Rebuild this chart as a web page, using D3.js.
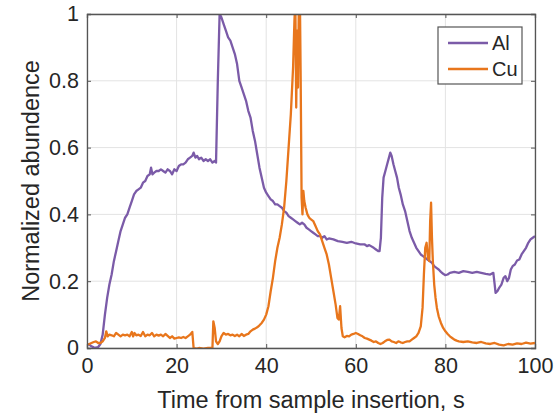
<!DOCTYPE html>
<html>
<head>
<meta charset="utf-8">
<script src="https://cdn.jsdelivr.net/npm/d3@7"></script>
<style>
  body { margin: 0; background: #fff; }
  text { font-family: "Liberation Sans", Arial, Helvetica, sans-serif; fill: #262626; }
</style>
</head>
<body>
<div class="chart"></div>
<script>
let FRAME_WIDTH = 555;
let FRAME_HEIGHT = 414;
let MARGINS = {left: 87, right: 20, top: 14, bottom: 66};

let xTicks = [0, 20, 40, 60, 80, 100];
let yTicks = [0, 0.2, 0.4, 0.6, 0.8, 1];
let yTickLabels = ["0", "0.2", "0.4", "0.6", "0.8", "1"];

// Al trace (time s, normalized value)
let alTime = [0, 0.5, 1, 1.5, 2, 2.5, 3, 3.5, 4, 4.5, 5, 5.5, 6, 6.5, 7, 7.5, 8, 8.5, 9, 9.5,
  10, 10.5, 11, 11.5, 12, 12.5, 13, 13.5, 14, 14.3, 14.6, 15, 15.5, 16, 16.5, 17, 17.5, 18, 18.5, 19, 19.5,
  20, 20.5, 21, 21.5, 22, 22.5, 23, 23.5, 23.8, 24.2, 24.6, 25, 25.5, 26, 26.5, 27, 27.5, 28, 28.5, 28.8,
  29.2, 29.6, 30, 30.5, 31, 31.5, 32, 32.5, 33, 33.5, 34, 34.5, 35, 35.5, 36, 36.5, 37, 37.5, 38, 38.5, 39, 39.5,
  40, 40.5, 41, 41.5, 42, 42.5, 43, 43.5, 44, 44.5, 45, 45.5, 46, 46.5, 47, 47.5, 48, 48.5, 49, 49.5,
  50, 50.5, 51, 51.5, 52, 52.5, 53, 53.5, 54, 55, 56, 57, 58, 59, 60, 61, 62, 62.5, 63, 64, 64.5, 65, 65.3,
  65.6, 65.9, 66.2, 66.6, 67, 67.4, 67.7, 68, 68.4, 68.8, 69.2, 69.6, 70, 70.5, 71, 71.5, 72, 72.5, 73, 73.5,
  74, 74.5, 75, 75.5, 76, 76.5, 77, 77.5, 78, 78.5, 79, 79.5, 80, 80.5, 81, 82, 83, 84, 85, 86, 87, 88, 89,
  90, 90.7, 91, 91.2, 91.6, 92, 92.5, 93, 93.4, 93.8, 94.2, 94.6, 95, 95.5, 96, 96.5, 97, 97.5, 98, 98.5, 99, 99.5, 100];
let alValues = [0.012, 0.010, 0.005, 0.002, 0.001, 0.003, 0.012, 0.04, 0.10, 0.15, 0.19, 0.22, 0.26, 0.29, 0.32, 0.35, 0.37, 0.39, 0.40, 0.42,
  0.44, 0.46, 0.47, 0.475, 0.48, 0.495, 0.50, 0.515, 0.52, 0.54, 0.52, 0.525, 0.53, 0.53, 0.535, 0.53, 0.525, 0.535, 0.53, 0.52, 0.535,
  0.53, 0.545, 0.55, 0.55, 0.555, 0.565, 0.57, 0.575, 0.585, 0.57, 0.575, 0.565, 0.57, 0.56, 0.565, 0.56, 0.565, 0.555, 0.56, 0.555,
  0.80, 1.0, 0.99, 0.97, 0.95, 0.93, 0.92, 0.90, 0.88, 0.85, 0.80, 0.78, 0.76, 0.74, 0.71, 0.69, 0.65, 0.62, 0.58, 0.54, 0.51, 0.48,
  0.465, 0.455, 0.445, 0.44, 0.43, 0.43, 0.425, 0.42, 0.41, 0.405, 0.395, 0.39, 0.385, 0.38, 0.375, 0.37, 0.375, 0.37, 0.36, 0.355,
  0.35, 0.345, 0.34, 0.335, 0.335, 0.33, 0.335, 0.325, 0.328, 0.325, 0.32, 0.318, 0.315, 0.318, 0.313, 0.31, 0.31, 0.305, 0.308, 0.30, 0.295, 0.29, 0.29,
  0.33, 0.45, 0.51, 0.53, 0.55, 0.57, 0.585, 0.575, 0.55, 0.53, 0.51, 0.48, 0.46, 0.43, 0.41, 0.38, 0.35, 0.33, 0.315, 0.30,
  0.29, 0.28, 0.275, 0.27, 0.265, 0.26, 0.255, 0.245, 0.24, 0.235, 0.228, 0.222, 0.218, 0.22, 0.225, 0.228, 0.225, 0.23, 0.228, 0.225, 0.228, 0.225, 0.222,
  0.22, 0.225, 0.19, 0.165, 0.17, 0.18, 0.19, 0.21, 0.215, 0.20, 0.21, 0.235, 0.245, 0.25, 0.262, 0.265, 0.28, 0.29, 0.30, 0.315, 0.325, 0.33, 0.335];

// Cu trace (time s, normalized value)
let cuTime = [0, 0.5, 1, 1.5, 2, 2.5, 3, 3.5, 4, 4.3, 4.6, 5, 5.5, 6, 6.5, 7, 7.5, 8, 8.5, 9, 9.5,
  10, 10.3, 10.6, 11, 11.5, 12, 12.5, 13, 13.5, 14, 14.5, 15, 15.5, 16, 16.5, 17, 17.5, 18, 18.5, 19, 19.5,
  20, 20.5, 21, 21.5, 22, 22.5, 23, 23.5, 23.8, 24.5, 25, 26, 27, 28, 28.2, 28.5, 28.8, 29.2, 29.6,
  30, 30.5, 31, 31.5, 32, 32.5, 33, 33.5, 34, 34.5, 35, 35.5, 36, 36.5, 37, 37.5, 38, 38.5, 39, 39.5,
  40, 40.5, 41, 41.5, 42, 42.5, 43, 43.5, 44, 44.5, 45, 45.5, 46, 46.3, 46.5, 46.7, 46.9, 47.1, 47.3, 47.5, 47.7, 47.9,
  48.1, 48.3, 48.5, 48.8, 49.2, 49.6, 50, 50.5, 51, 51.5, 52, 52.5, 53, 53.5, 54, 54.5, 55, 55.5, 55.9, 56.2, 56.5, 56.8,
  57.1, 57.5, 58, 58.5, 59, 59.5, 60, 60.5, 61, 61.5, 62, 62.5, 63, 63.5, 64, 64.5, 65, 65.5, 66, 66.5, 67, 67.5,
  68, 68.5, 69, 69.5, 70, 70.5, 71, 71.5, 72, 72.5, 73, 73.5, 74, 74.5, 74.9, 75.2, 75.5, 75.8, 76.1, 76.4, 76.6, 76.8,
  77.0, 77.2, 77.5, 77.8, 78.1, 78.5, 79, 79.5, 80, 80.5, 81, 81.5, 82, 82.5, 83, 84, 85, 86, 87, 88, 89,
  90, 91, 92, 93, 94, 95, 96, 97, 98, 99, 100];
let cuValues = [0.01, 0.012, 0.015, 0.018, 0.02, 0.015, 0.015, 0.02, 0.03, 0.05, 0.035, 0.04, 0.038, 0.035, 0.045, 0.04, 0.035, 0.04, 0.038, 0.04, 0.035,
  0.048, 0.035, 0.045, 0.038, 0.04, 0.036, 0.048, 0.035, 0.04, 0.038, 0.045, 0.035, 0.04, 0.037, 0.04, 0.035, 0.042, 0.036, 0.03, 0.035, 0.028,
  0.03, 0.032, 0.03, 0.033, 0.03, 0.035, 0.04, 0.048, 0.0, -0.002, 0.0, -0.002, 0.0, 0.0, 0.08, 0.06, 0.02, 0.012, 0.02,
  0.035, 0.045, 0.04, 0.042, 0.038, 0.04, 0.036, 0.04, 0.035, 0.042, 0.036, 0.04, 0.042, 0.05, 0.055, 0.058, 0.062, 0.068, 0.075, 0.085,
  0.10, 0.125, 0.17, 0.21, 0.26, 0.30, 0.33, 0.37, 0.42, 0.50, 0.60, 0.70, 0.84, 0.98, 1.04, 0.72, 0.95, 0.78, 1.05, 1.08, 0.80, 0.45,
  0.40, 0.47, 0.44, 0.42, 0.40, 0.39, 0.385, 0.38, 0.365, 0.35, 0.34, 0.32, 0.30, 0.28, 0.25, 0.21, 0.17, 0.13, 0.09, 0.085, 0.125, 0.06,
  0.035, 0.032, 0.036, 0.035, 0.04, 0.042, 0.045, 0.042, 0.038, 0.035, 0.03, 0.028, 0.025, 0.022, 0.018, 0.02, 0.015, 0.012, 0.015, 0.02, 0.024, 0.025,
  0.02, 0.018, 0.015, 0.02, 0.017, 0.015, 0.018, 0.02, 0.02, 0.025, 0.03, 0.035, 0.045, 0.065, 0.12, 0.22, 0.30, 0.315, 0.27, 0.26, 0.38, 0.435,
  0.33, 0.26, 0.19, 0.15, 0.12, 0.095, 0.075, 0.06, 0.05, 0.042, 0.035, 0.03, 0.025, 0.022, 0.02, 0.018, 0.02, 0.017, 0.015, 0.018, 0.014,
  0.012, 0.015, 0.01, 0.008, 0.012, 0.01, 0.014, 0.012, 0.016, 0.013, 0.015];

let seriesNames = ["Al", "Cu"];
let seriesColors = ["#7b5ba8", "#e8761c"];

let svg = d3.select(".chart")
            .append("svg")
            .attr("width", FRAME_WIDTH)
            .attr("height", FRAME_HEIGHT);

let PLOT_WIDTH = FRAME_WIDTH - MARGINS.left - MARGINS.right;
let PLOT_HEIGHT = FRAME_HEIGHT - MARGINS.top - MARGINS.bottom;

const X_SCALE = d3.scaleLinear().domain([0, 100]).range([0, PLOT_WIDTH]);
const Y_SCALE = d3.scaleLinear().domain([0, 1]).range([PLOT_HEIGHT, 0]);

let plot = svg.append("g")
              .attr("transform", "translate(" + MARGINS.left + "," + MARGINS.top + ")");

// grid
plot.append("g")
    .selectAll("line.vgrid")
    .data(xTicks)
    .enter()
    .append("line")
      .attr("x1", d => X_SCALE(d)).attr("x2", d => X_SCALE(d))
      .attr("y1", 0).attr("y2", PLOT_HEIGHT)
      .attr("stroke", "#e3e3e3").attr("stroke-width", 1);

plot.append("g")
    .selectAll("line.hgrid")
    .data(yTicks)
    .enter()
    .append("line")
      .attr("x1", 0).attr("x2", PLOT_WIDTH)
      .attr("y1", d => Y_SCALE(d)).attr("y2", d => Y_SCALE(d))
      .attr("stroke", "#e3e3e3").attr("stroke-width", 1);

// clip so peaks stop at the frame
plot.append("clipPath").attr("id", "clip")
    .append("rect").attr("width", PLOT_WIDTH).attr("height", PLOT_HEIGHT);

let line = d3.line()
             .x(d => X_SCALE(d[0]))
             .y(d => Y_SCALE(d[1]));

let alData = alTime.map((t, i) => [t, alValues[i]]);
let cuData = cuTime.map((t, i) => [t, cuValues[i]]);

plot.append("path")
    .datum(alData)
    .attr("clip-path", "url(#clip)")
    .attr("d", line)
    .attr("fill", "none")
    .attr("stroke", seriesColors[0])
    .attr("stroke-width", 2.3)
    .attr("stroke-linejoin", "round");

plot.append("path")
    .datum(cuData)
    .attr("clip-path", "url(#clip)")
    .attr("d", line)
    .attr("fill", "none")
    .attr("stroke", seriesColors[1])
    .attr("stroke-width", 2.3)
    .attr("stroke-linejoin", "round");

// axes (ticks inside, matlab style)
let xAxis = plot.append("g")
    .attr("transform", "translate(0," + PLOT_HEIGHT + ")")
    .call(d3.axisBottom(X_SCALE).tickValues(xTicks).tickSize(-4).tickPadding(10));
let yAxis = plot.append("g")
    .call(d3.axisLeft(Y_SCALE).tickValues(yTicks).tickFormat((d, i) => yTickLabels[i]).tickSize(-4).tickPadding(8));
let xTop = plot.append("g")
    .call(d3.axisTop(X_SCALE).tickValues(xTicks).tickSize(-4).tickFormat(""));
let yRight = plot.append("g")
    .attr("transform", "translate(" + PLOT_WIDTH + ",0)")
    .call(d3.axisRight(Y_SCALE).tickValues(yTicks).tickSize(-4).tickFormat(""));

[xAxis, yAxis, xTop, yRight].forEach(a => {
  a.selectAll("path.domain").attr("stroke", "#555").attr("stroke-width", 1.3);
  a.selectAll(".tick line").attr("stroke", "#555");
  a.selectAll("text").attr("font-size", "21.5px").attr("fill", "#262626")
   .attr("font-family", "'Liberation Sans', Arial, sans-serif");
});

// axis titles
svg.append("text")
   .attr("x", MARGINS.left + PLOT_WIDTH / 2)
   .attr("y", 408)
   .attr("text-anchor", "middle")
   .attr("font-size", "23.5px")
   .text("Time from sample insertion, s");

svg.append("text")
   .attr("transform", "translate(39," + (MARGINS.top + PLOT_HEIGHT / 2) + ") rotate(-90)")
   .attr("text-anchor", "middle")
   .attr("font-size", "23.5px")
   .text("Normalized abundence");

// legend
let legend = svg.append("g").attr("transform", "translate(438,27)");
legend.append("rect")
      .attr("width", 84).attr("height", 57)
      .attr("fill", "#fff").attr("stroke", "#555").attr("stroke-width", 1.2);
seriesNames.forEach((name, i) => {
  let y = 16 + i * 26;
  legend.append("line")
        .attr("x1", 10).attr("x2", 50).attr("y1", y).attr("y2", y)
        .attr("stroke", seriesColors[i]).attr("stroke-width", 2.3);
  legend.append("text")
        .attr("x", 54).attr("y", y + 7)
        .attr("font-size", "20px")
        .text(name);
});
</script>
</body>
</html>
